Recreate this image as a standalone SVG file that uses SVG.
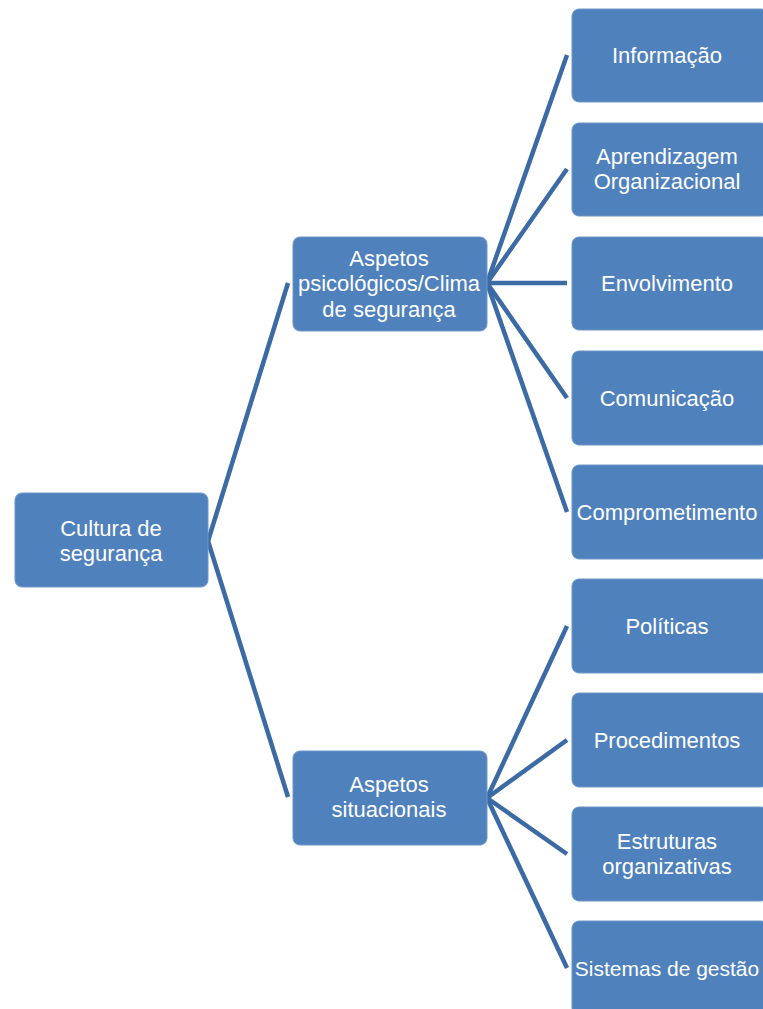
<svg xmlns="http://www.w3.org/2000/svg" width="763" height="1009" viewBox="0 0 763 1009">
<style>
.box{fill:#4F81BD;stroke:#6F97C8;stroke-width:1}
.t{fill:#FFFFFF;font-family:"Liberation Sans",Arial,sans-serif;font-size:22px;text-anchor:middle}
.c{stroke:#3C6AA5;stroke-width:4.5;fill:none;stroke-linecap:butt}
</style>
<rect width="763" height="1009" fill="#FFFFFF"/>
<g id="connectors">
<line class="c" x1="208" y1="541" x2="288" y2="283"/>
<line class="c" x1="208" y1="541" x2="288" y2="797"/>
<line class="c" x1="487" y1="283" x2="567" y2="55"/>
<line class="c" x1="487" y1="283" x2="567" y2="169"/>
<line class="c" x1="487" y1="283" x2="567" y2="283"/>
<line class="c" x1="487" y1="283" x2="567" y2="398"/>
<line class="c" x1="487" y1="283" x2="567" y2="512"/>
<line class="c" x1="487" y1="798" x2="567" y2="626"/>
<line class="c" x1="487" y1="798" x2="567" y2="740"/>
<line class="c" x1="487" y1="798" x2="567" y2="854"/>
<line class="c" x1="487" y1="798" x2="567" y2="968"/>
</g>
<g id="root"><rect class="box" x="15" y="493" width="193" height="94" rx="7"/><text class="t" x="111" y="536">Cultura de</text><text class="t" x="111" y="561">segurança</text></g>
<g id="mid1"><rect class="box" x="293" y="237" width="194" height="94" rx="7"/><text class="t" x="389" y="266">Aspetos</text><text class="t" x="389" y="291">psicológicos/Clima</text><text class="t" x="389" y="317">de segurança</text></g>
<g id="mid2"><rect class="box" x="293" y="751" width="194" height="94" rx="7"/><text class="t" x="389" y="792">Aspetos</text><text class="t" x="389" y="817">situacionais</text></g>
<g id="leaf1"><rect class="box" x="572" y="9" width="196" height="93" rx="7"/><text class="t" x="667" y="63">Informação</text></g>
<g id="leaf2"><rect class="box" x="572" y="123" width="196" height="93" rx="7"/><text class="t" x="667" y="164">Aprendizagem</text><text class="t" x="667" y="189">Organizacional</text></g>
<g id="leaf3"><rect class="box" x="572" y="237" width="196" height="93" rx="7"/><text class="t" x="667" y="291">Envolvimento</text></g>
<g id="leaf4"><rect class="box" x="572" y="351" width="196" height="94" rx="7"/><text class="t" x="667" y="406">Comunicação</text></g>
<g id="leaf5"><rect class="box" x="572" y="465" width="196" height="94" rx="7"/><text class="t" x="667" y="520">Comprometimento</text></g>
<g id="leaf6"><rect class="box" x="572" y="579" width="196" height="94" rx="7"/><text class="t" x="667" y="634">Políticas</text></g>
<g id="leaf7"><rect class="box" x="572" y="693" width="196" height="94" rx="7"/><text class="t" x="667" y="748">Procedimentos</text></g>
<g id="leaf8"><rect class="box" x="572" y="807" width="196" height="94" rx="7"/><text class="t" x="667" y="849">Estruturas</text><text class="t" x="667" y="874">organizativas</text></g>
<g id="leaf9"><rect class="box" x="572" y="921" width="196" height="94" rx="7"/><text class="t" x="667" y="976" style="font-size:21px">Sistemas de gestão</text></g>
</svg>
